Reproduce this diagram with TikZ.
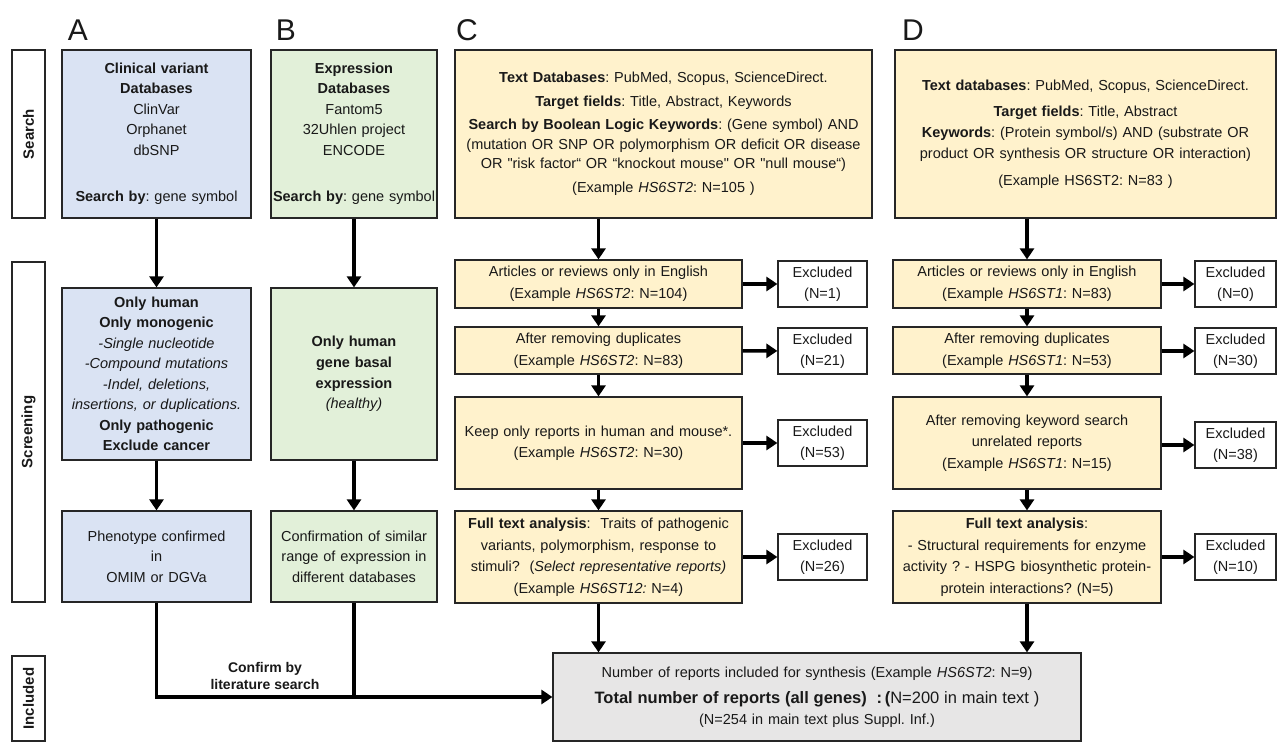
\documentclass[tikz,border=0pt]{standalone}
\usepackage{fontspec}
\setmainfont{Liberation Sans}
\frenchspacing
\usetikzlibrary{arrows.meta}
\definecolor{dbblue}{HTML}{DAE3F3}
\definecolor{exprgreen}{HTML}{E2F0D9}
\definecolor{lityellow}{HTML}{FFF2CC}
\definecolor{resgrey}{HTML}{E7E6E6}

\begin{document}
\begin{tikzpicture}[x=1pt,y=-1pt,
  every node/.style={font=\fontsize{14.5}{20.5}\selectfont, text=black!90},
  box/.style={draw=black!85, line width=1.2pt, rectangle, align=center, inner xsep=3pt, inner ysep=0pt},
  stepbox/.style={box, fill=lityellow, font=\fontsize{14.5}{21.5}\selectfont},
  excl/.style={box, fill=white, text width=83pt, minimum height=46pt, font=\fontsize{14.5}{21.5}\selectfont},
  side/.style={draw=black!85, line width=1.2pt, rotate=90, minimum height=33pt, inner sep=0pt,
    font=\bfseries\fontsize{15}{17}\selectfont},
  letter/.style={font=\fontsize{30}{32}\selectfont},
  arr/.style={line width=3.5pt, -{Triangle[length=11pt,width=14pt]}}]
\useasboundingbox (0,0) rectangle (1279,743);
\fill[white] (0,0) rectangle (1279,743);

% stage labels
\node[side, minimum width=168pt] (sideSearch) at (28.5,134) {Search};
\node[side, minimum width=340pt] (sideScreen) at (28.5,432) {Screening};
\node[side, minimum width=85pt] (sideIncl) at (28.5,698.5) {Included};

\node[letter] (letA) at (78,30) {A};
\node[letter] (letB) at (286,30) {B};
\node[letter] (letC) at (467,30) {C};
\node[letter] (letD) at (913,30) {D};

% A: clinical variants
\node[box, fill=dbblue, text width=183pt, minimum height=168pt] (srchA) at (156.5,134)
  {\textbf{Clinical variant}\\\textbf{Databases}\\ClinVar\\Orphanet\\dbSNP\\[26pt]\textbf{Search by}: gene symbol};
\node[box, fill=dbblue, text width=183pt, minimum height=172pt] (scrA) at (156.5,374)
  {\textbf{Only human}\\\textbf{Only monogenic}\\\textit{-Single nucleotide}\\\textit{-Compound mutations}\\
   \textit{-Indel, deletions,}\\\textit{insertions, or duplications.}\\\textbf{Only pathogenic}\\\textbf{Exclude cancer}};
\node[box, fill=dbblue, text width=183pt, minimum height=91pt] (phenA) at (156.5,556.5)
  {Phenotype confirmed\\in\\OMIM or DGVa};

% B: expression
\node[box, fill=exprgreen, inner xsep=1pt, text width=164pt, minimum height=168pt] (srchB) at (354,134)
  {\textbf{Expression}\\\textbf{Databases}\\Fantom5\\32Uhlen project\\ENCODE\\[26pt]\textbf{Search by}: gene symbol};
\node[box, fill=exprgreen, inner xsep=1pt, text width=164pt, minimum height=172pt] (scrB) at (354,374)
  {\textbf{Only human}\\\textbf{gene basal}\\\textbf{expression}\\\textit{(healthy)}};
\node[box, fill=exprgreen, inner xsep=1pt, text width=164pt, minimum height=91pt] (confB) at (354,556.5)
  {Confirmation of similar\\range of expression in\\different databases};

% C: literature, genes
\node[box, fill=lityellow, text width=411pt, minimum height=168pt, font=\fontsize{14.5}{19.5}\selectfont] (srchC) at (663.5,134)
  {\textbf{Text Databases}: PubMed, Scopus, ScienceDirect.\\[4pt]
   \textbf{Target fields}: Title, Abstract, Keywords\\[4pt]
   \textbf{Search by Boolean Logic Keywords}: (Gene symbol) AND\\
   (mutation OR SNP OR polymorphism OR deficit OR disease\\
   OR \textquotedbl risk factor“ OR “knockout mouse\textquotedbl{} OR \textquotedbl null mouse“)\\[4pt]
   (Example \textit{HS6ST2}: N=105 )};
\node[stepbox, text width=281pt, minimum height=48pt] (c1) at (598.5,284)
  {Articles or reviews only in English\\(Example \textit{HS6ST2}: N=104)};
\node[stepbox, text width=281pt, minimum height=47pt] (c2) at (598.5,350.5)
  {After removing duplicates\\(Example \textit{HS6ST2}: N=83)};
\node[stepbox, text width=281pt, minimum height=92pt] (c3) at (598.5,443)
  {Keep only reports in human and mouse*.\\(Example \textit{HS6ST2}: N=30)};
\node[stepbox, text width=281pt, minimum height=92pt] (c4) at (598.5,557)
  {\textbf{Full text analysis}:\ \ Traits of pathogenic\\variants, polymorphism, response to\\
   stimuli?\ \ (\textit{Select representative reports)}\\(Example \textit{HS6ST12:} N=4)};
\node[excl] (xc1) at (822.5,284) {Excluded\\(N=1)};
\node[excl] (xc2) at (822.5,351) {Excluded\\(N=21)};
\node[excl] (xc3) at (822.5,443) {Excluded\\(N=53)};
\node[excl] (xc4) at (822.5,557) {Excluded\\(N=26)};

% D: literature, proteins
\node[box, fill=lityellow, text width=375pt, minimum height=168pt, font=\fontsize{14.5}{21}\selectfont] (srchD) at (1085.5,134)
  {\textbf{Text databases}: PubMed, Scopus, ScienceDirect.\\[5pt]
   \textbf{Target fields}: Title, Abstract\\
   \textbf{Keywords}: (Protein symbol/s) AND (substrate OR\\
   product OR synthesis OR structure OR interaction)\\[6pt]
   (Example HS6ST2: N=83 )};
\node[stepbox, text width=262pt, minimum height=48pt] (d1) at (1027,284)
  {Articles or reviews only in English\\(Example \textit{HS6ST1}: N=83)};
\node[stepbox, text width=262pt, minimum height=47pt] (d2) at (1027,350.5)
  {After removing duplicates\\(Example \textit{HS6ST1}: N=53)};
\node[stepbox, text width=262pt, minimum height=92pt] (d3) at (1027,443)
  {After removing keyword search\\unrelated reports\\(Example \textit{HS6ST1}: N=15)};
\node[stepbox, text width=262pt, minimum height=92pt] (d4) at (1027,557)
  {\textbf{Full text analysis}:\\- Structural requirements for enzyme\\activity ? - HSPG biosynthetic protein-\\
   protein interactions? (N=5)};
\node[excl, text width=75pt] (xd1) at (1235.5,284) {Excluded\\(N=0)};
\node[excl, text width=75pt] (xd2) at (1235.5,351) {Excluded\\(N=30)};
\node[excl, text width=75pt] (xd3) at (1235.5,445) {Excluded\\(N=38)};
\node[excl, text width=75pt] (xd4) at (1235.5,557) {Excluded\\(N=10)};

% included
\node[box, fill=resgrey, text width=522pt, minimum height=88pt] (final) at (817,697)
  {Number of reports included for synthesis (Example \textit{HS6ST2}: N=9)\\[6pt]
   {\fontsize{16.5}{19}\selectfont\textbf{Total number of reports (all genes)\ \ :\,(}N=200 in main text )}\\
   (N=254 in main text plus Suppl. Inf.)};

\node[font=\bfseries\fontsize{14}{17}\selectfont, align=center] (confirm) at (265,676)
  {Confirm by\\literature search};

% connectors
\draw[arr] (srchA) -- (scrA);
\draw[arr] (scrA) -- (phenA);
\draw[arr] (srchB) -- (scrB);
\draw[arr] (scrB) -- (confB);
\draw[arr] (c1.north |- srchC.south) -- (c1);
\draw[arr] (c1) -- (c2);
\draw[arr] (c2) -- (c3);
\draw[arr] (c3) -- (c4);
\draw[arr] (c4.south) -- (c4.south |- final.north);
\draw[arr] (d1.north |- srchD.south) -- (d1);
\draw[arr] (d1) -- (d2);
\draw[arr] (d2) -- (d3);
\draw[arr] (d3) -- (d4);
\draw[arr] (d4.south) -- (d4.south |- final.north);
\foreach \s in {1,...,4} {
  \draw[arr] (c\s) -- (xc\s);
  \draw[arr] (d\s.east |- xd\s) -- (xd\s);
}
\draw[arr] (phenA.south) |- (final.west);
\draw[line width=3.5pt] (confB.south) -- (confB.south |- final.west);
\end{tikzpicture}
\end{document}
